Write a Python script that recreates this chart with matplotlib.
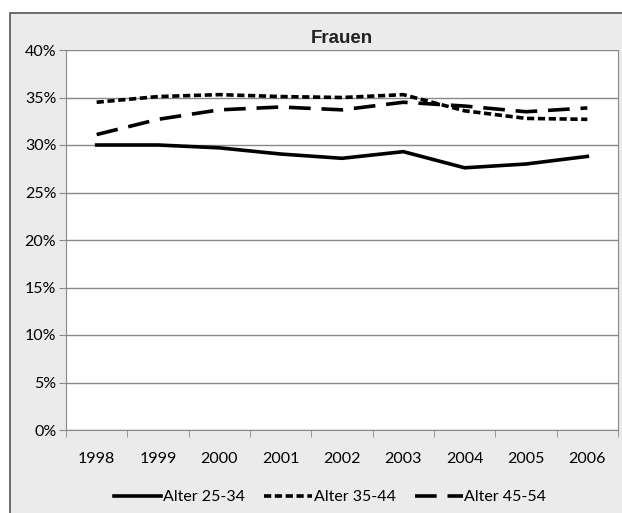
import matplotlib.pyplot as plt
from matplotlib.patches import Rectangle
import numpy as np

years = ['1998', '1999', '2000', '2001', '2002', '2003', '2004', '2005', '2006']
alter_25_34 = [30.0, 30.0, 29.7, 29.05, 28.6, 29.3, 27.6, 28.0, 28.8]
alter_35_44 = [34.5, 35.1, 35.3, 35.1, 35.0, 35.3, 33.6, 32.8, 32.7]
alter_45_54 = [31.1, 32.7, 33.7, 34.0, 33.7, 34.5, 34.1, 33.5, 33.9]

plt.rcParams['font.family'] = ['Lato', 'DejaVu Sans']

fig = plt.figure(figsize=(6.22, 5.13), dpi=100)
fig.patch.set_facecolor('white')
# grey chart area with frame, behind the axes
fig.patches.append(Rectangle((10 / 622, -0.01), 1.0, 1 - 13 / 513 + 0.01,
                             transform=fig.transFigure, facecolor='#ebebeb',
                             edgecolor='#555555', linewidth=1.2, zorder=-10))

ax = fig.add_axes([66 / 622, 1 - 430 / 513, 552 / 622, 380 / 513])
ax.set_facecolor('white')

x = np.arange(len(years))
ax.plot(x, alter_25_34, color='black', lw=2.6, label='Alter 25-34')
ax.plot(x, alter_35_44, color='black', lw=2.6, dashes=(2, 1), label='Alter 35-44')
ax.plot(x, alter_45_54, color='black', lw=2.6, dashes=(6, 3), label='Alter 45-54')

ax.set_xlim(-0.5, len(years) - 0.5)
ax.set_ylim(0, 40)
ax.set_yticks(np.arange(0, 41, 5))
ax.set_yticklabels([f'{v}%' for v in range(0, 41, 5)])
ax.set_xticks(x)
ax.set_xticklabels(years)
ax.set_xticks(np.arange(-0.5, len(years)), minor=True)
ax.tick_params(axis='x', which='major', length=0, pad=16, labelsize=11.5)
ax.tick_params(axis='x', which='minor', length=5, color='#888888')
ax.tick_params(axis='y', length=5, color='#888888', labelsize=11.5, pad=2)
ax.grid(axis='y', color='#888888', lw=1)
ax.set_axisbelow(True)
ax.spines['top'].set_visible(False)
for s in ['left', 'bottom', 'right']:
    ax.spines[s].set_color('#888888')

ax.set_title('Frauen', fontsize=13.5, fontweight='bold', family='Liberation Sans',
             color='#222222', pad=5)

fig.legend(loc='center', bbox_to_anchor=(330 / 622, 1 - 497 / 513), ncol=3,
           frameon=False, fontsize=11.5, handlelength=3.0, handletextpad=0.1,
           columnspacing=1.2)

fig.savefig('out.png', dpi=100, facecolor=fig.get_facecolor())
